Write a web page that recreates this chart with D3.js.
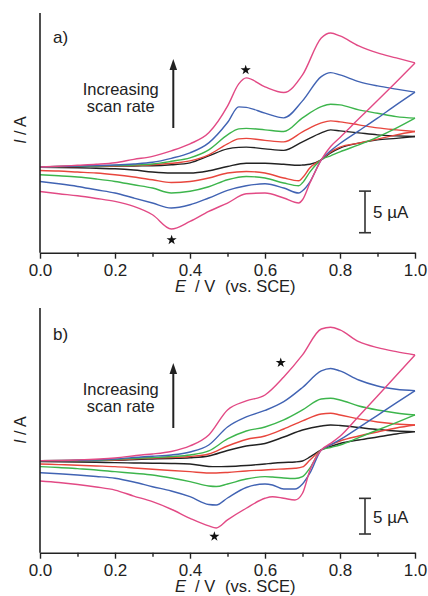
<!DOCTYPE html>
<html>
<head>
<meta charset="utf-8">
<script src="https://cdn.jsdelivr.net/npm/d3@7/dist/d3.min.js"></script>
<style>
  body { margin: 0; background: #fff; }
  text { font-family: "Liberation Sans", Arial, Helvetica, sans-serif; fill: #222; }
</style>
</head>
<body>
<svg id="chart" width="428" height="596"></svg>
<script>
// Cyclic voltammograms at five scan rates (slowest -> fastest), current in µA.
const seriesNames = ["black", "red", "green", "blue", "magenta"];
const seriesColors = ["#222222", "#e8463d", "#3db54c", "#4163b3", "#e24a85"];

// ---- Panel a) ----
const potA_fwd = [0, 0.05, 0.1, 0.15, 0.2, 0.25, 0.3, 0.35, 0.4, 0.45, 0.5, 0.53, 0.55, 0.6, 0.65, 0.7, 0.75, 0.775, 0.8, 0.85, 0.9, 0.95, 1.0];
const potA_rev = [1.0, 0.95, 0.9, 0.85, 0.8, 0.775, 0.75, 0.72, 0.7, 0.69, 0.65, 0.6, 0.55, 0.5, 0.45, 0.4, 0.35, 0.3, 0.25, 0.2, 0.15, 0.1, 0.05, 0];

const a_black_fwd   = [0, 0.02, 0.05, 0.06, 0.08, 0.12, 0.14, 0.26, 0.50, 1.34, 2.18, 2.36, 2.39, 2.18, 2.00, 3.02, 4.10, 4.46, 4.34, 4.10, 3.86, 3.74, 3.66];
const a_red_fwd     = [0, 0.04, 0.06, 0.08, 0.11, 0.17, 0.26, 0.44, 0.74, 1.46, 2.78, 3.38, 3.44, 3.20, 3.02, 4.22, 5.30, 5.54, 5.42, 5.06, 4.70, 4.46, 4.26];
const a_green_fwd   = [0, 0.05, 0.08, 0.12, 0.17, 0.23, 0.35, 0.68, 1.10, 2.06, 3.86, 4.58, 4.64, 4.46, 4.26, 5.90, 7.25, 7.54, 7.46, 6.86, 6.46, 6.05, 5.87];
const a_blue_fwd    = [0, 0.06, 0.11, 0.17, 0.24, 0.36, 0.56, 1.04, 1.70, 2.90, 5.34, 7.22, 7.16, 6.47, 5.90, 7.94, 10.86, 11.34, 11.06, 10.26, 9.74, 9.35, 8.99];
const a_magenta_fwd = [0, 0.08, 0.20, 0.32, 0.50, 0.92, 1.28, 1.94, 2.78, 4.10, 7.30, 9.98, 10.70, 9.62, 8.94, 11.06, 15.50, 16.10, 15.74, 14.54, 13.70, 13.10, 12.50];

const a_black_rev   = [3.66, 3.44, 3.26, 2.87, 2.27, 1.70, 0.86, 0.32, 0.23, 0.20, 0.32, 0.44, 0.44, 0.06, -0.46, -0.73, -0.73, -0.61, -0.37, -0.22, -0.16, -0.10, -0.06, -0.04];
const a_red_rev     = [4.26, 3.86, 3.35, 2.87, 2.39, 1.82, 0.86, -0.10, -1.30, -1.66, -1.33, -0.73, -0.54, -0.73, -1.33, -1.74, -1.86, -1.54, -1.21, -0.94, -0.73, -0.61, -0.49, -0.42];
const a_green_rev   = [5.87, 4.67, 3.59, 2.66, 1.82, 1.34, 0.86, -0.58, -1.90, -2.26, -1.93, -1.33, -1.14, -1.54, -2.38, -2.92, -3.13, -2.53, -2.14, -1.74, -1.45, -1.21, -1.06, -0.94];
const a_blue_rev    = [8.99, 7.46, 5.87, 4.34, 2.82, 1.94, 0.86, -1.78, -2.86, -3.13, -2.53, -2.02, -2.26, -2.82, -3.73, -4.54, -4.93, -4.33, -3.73, -3.13, -2.74, -2.34, -2.02, -1.74];
const a_magenta_rev = [12.50, 10.22, 7.98, 5.78, 3.54, 2.46, 0.86, -1.90, -3.94, -4.33, -3.73, -3.13, -3.22, -4.33, -5.34, -6.54, -7.45, -5.74, -4.74, -4.14, -3.78, -3.46, -3.22, -2.94];

// ---- Panel b) ----
const potB_fwd = [0, 0.1, 0.2, 0.27, 0.3, 0.35, 0.4, 0.45, 0.5, 0.55, 0.6, 0.65, 0.7, 0.75, 0.775, 0.8, 0.85, 0.9, 0.95, 1.0];
const potB_rev = [1.0, 0.95, 0.9, 0.85, 0.8, 0.775, 0.75, 0.72, 0.7, 0.68, 0.65, 0.62, 0.6, 0.55, 0.5, 0.47, 0.45, 0.4, 0.35, 0.3, 0.25, 0.2, 0.15, 0.1, 0.05, 0];

const b_black_fwd   = [0, 0.01, 0.06, 0.20, 0.24, 0.31, 0.41, 0.66, 1.43, 2.06, 2.41, 3.32, 4.30, 4.86, 5.00, 4.93, 4.65, 4.37, 4.16, 4.07];
const b_red_fwd     = [0, 0.03, 0.10, 0.31, 0.35, 0.45, 0.59, 0.94, 2.06, 2.97, 3.46, 4.44, 5.57, 6.55, 6.65, 6.41, 5.85, 5.43, 5.15, 5.00];
const b_green_fwd   = [0, 0.03, 0.17, 0.38, 0.45, 0.59, 0.80, 1.36, 3.04, 4.16, 4.72, 5.71, 7.11, 8.65, 8.75, 8.51, 7.67, 7.11, 6.69, 6.41];
const b_blue_fwd    = [0, 0.06, 0.24, 0.52, 0.62, 0.80, 1.22, 2.20, 4.72, 6.13, 7.04, 8.27, 10.26, 12.58, 12.93, 12.58, 11.31, 10.47, 10.01, 9.81];
const b_magenta_fwd = [0, 0.10, 0.38, 0.80, 0.94, 1.29, 2.06, 3.60, 7.11, 8.37, 9.21, 11.73, 14.82, 18.46, 18.70, 18.32, 16.68, 15.84, 15.28, 14.82];

const b_black_rev   = [4.07, 3.74, 3.32, 2.90, 2.41, 1.99, 1.50, 0.52, -0.04, -0.18, -0.25, -0.36, -0.46, -0.67, -0.81, -0.84, -0.81, -0.46, -0.39, -0.36, -0.32, -0.28, -0.22, -0.18, -0.15, -0.14];
const b_red_rev     = [5.00, 4.58, 4.02, 3.46, 2.76, 2.20, 1.50, 0.10, -0.88, -1.07, -1.16, -1.23, -1.30, -1.44, -1.65, -1.72, -1.72, -1.54, -1.37, -1.21, -1.02, -0.84, -0.74, -0.64, -0.55, -0.46];
const b_green_rev   = [6.41, 5.34, 4.30, 3.24, 2.20, 1.85, 1.50, -1.02, -2.24, -2.50, -2.43, -2.29, -2.24, -2.57, -3.27, -3.62, -3.55, -2.94, -2.43, -2.01, -1.77, -1.54, -1.30, -1.12, -0.95, -0.84];
const b_blue_rev    = [9.81, 8.09, 6.36, 4.63, 2.94, 2.20, 1.50, -1.72, -3.27, -3.97, -3.97, -3.41, -3.27, -3.76, -5.23, -6.21, -6.14, -5.05, -4.25, -3.65, -2.99, -2.47, -2.22, -2.01, -1.84, -1.68];
const b_magenta_rev = [14.82, 11.95, 9.07, 6.23, 3.42, 2.42, 1.50, -1.30, -4.57, -5.51, -5.27, -5.05, -5.27, -6.67, -8.31, -9.43, -9.15, -8.08, -6.81, -5.75, -4.96, -4.12, -3.69, -3.34, -3.06, -2.85];

// Peak markers (potential in V, current in µA)
const a_starE = [0.5485, 0.351];
const a_starI = [11.65, -8.77];
const b_starE = [0.642, 0.465];
const b_starI = [13.73, -10.63];

const xTicks = [0, 0.2, 0.4, 0.6, 0.8, 1.0];
const xMinorTicks = [0.1, 0.3, 0.5, 0.7, 0.9];
const scaleBarValue = 5; // µA

const panels = [
  {
    tag: "a)", top: 13, bottom: 252.7, yDomain: [-10.3, 18.5],
    potFwd: potA_fwd, potRev: potA_rev,
    fwd: [a_black_fwd, a_red_fwd, a_green_fwd, a_blue_fwd, a_magenta_fwd],
    rev: [a_black_rev, a_red_rev, a_green_rev, a_blue_rev, a_magenta_rev],
    starE: a_starE, starI: a_starI, barBase: -7.9, dy: 0
  },
  {
    tag: "b)", top: 308, bottom: 552.7, yDomain: [-12.9, 21.4],
    potFwd: potB_fwd, potRev: potB_rev,
    fwd: [b_black_fwd, b_red_fwd, b_green_fwd, b_blue_fwd, b_magenta_fwd],
    rev: [b_black_rev, b_red_rev, b_green_rev, b_blue_rev, b_magenta_rev],
    starE: b_starE, starI: b_starI, barBase: -10.28, dy: 300
  }
];

const svg = d3.select("#chart");
const x = d3.scaleLinear().domain([0, 1]).range([40, 415]);

panels.forEach(p => {
  const y = d3.scaleLinear().domain(p.yDomain).range([p.bottom, p.top]);
  const g = svg.append("g");

  const line = d3.line()
    .x(d => x(d[0]))
    .y(d => y(d[1]))
    .curve(d3.curveMonotoneX);

  // Curves: forward and reverse sweeps for each scan rate
  seriesNames.forEach((name, i) => {
    const fwdPts = p.potFwd.map((e, k) => [e, p.fwd[i][k]]);
    const revPts = p.potRev.map((e, k) => [e, p.rev[i][k]]).reverse();
    [fwdPts, revPts].forEach(pts => {
      g.append("path")
        .attr("d", line(pts))
        .attr("fill", "none")
        .attr("stroke", seriesColors[i])
        .attr("stroke-width", 1.4)
        .attr("stroke-linejoin", "round");
    });
  });

  // y axis line (no tick labels)
  g.append("line")
    .attr("x1", x(0)).attr("x2", x(0))
    .attr("y1", p.top).attr("y2", p.bottom)
    .attr("stroke", "#222").attr("stroke-width", 1.6);

  // x axis with major and minor ticks
  const axisMajor = d3.axisBottom(x).tickValues(xTicks)
    .tickFormat(d3.format(".1f")).tickSizeInner(6).tickSizeOuter(0).tickPadding(5);
  const ax = g.append("g").attr("transform", `translate(0,${p.bottom})`).call(axisMajor);
  ax.select(".domain").attr("stroke", "#222").attr("stroke-width", 1.6);
  ax.selectAll(".tick line").attr("stroke", "#222").attr("stroke-width", 1.4);
  ax.selectAll(".tick text").attr("font-size", 17).attr("fill", "#333")
    .attr("font-family", "Liberation Sans, Arial, sans-serif");

  const axisMinor = d3.axisBottom(x).tickValues(xMinorTicks).tickFormat("").tickSizeInner(4).tickSizeOuter(0);
  const axm = g.append("g").attr("transform", `translate(0,${p.bottom})`).call(axisMinor);
  axm.select(".domain").remove();
  axm.selectAll(".tick line").attr("stroke", "#222").attr("stroke-width", 1.4);

  // x axis title
  const xt = g.append("text").attr("y", p.bottom + 39.5).attr("font-size", 16.5).attr("fill", "#333");
  xt.append("tspan").attr("x", 175).attr("font-style", "italic").text("E");
  xt.append("tspan").attr("x", 195).text("/ V");
  xt.append("tspan").attr("x", 225).text("(vs. SCE)");

  // y axis title
  g.append("text")
    .attr("transform", `translate(26,${130 + p.dy}) rotate(-90)`)
    .attr("text-anchor", "middle").attr("font-size", 16).attr("fill", "#333")
    .html('<tspan font-style="italic">I</tspan> / A');

  // panel tag
  g.append("text").attr("x", 53).attr("y", 43 + p.dy + (p.dy ? -3.5 : 0))
    .attr("font-size", 17).attr("fill", "#333").text(p.tag);

  // scan-rate note and arrow
  g.append("text").attr("x", 120.7).attr("y", 95 + p.dy).attr("text-anchor", "middle")
    .attr("font-size", 16.5).attr("fill", "#333").text("Increasing");
  g.append("text").attr("x", 120.7).attr("y", 111.7 + p.dy).attr("text-anchor", "middle")
    .attr("font-size", 16.5).attr("fill", "#333").text("scan rate");
  const ax0 = 173.3, tipY = 59 + p.dy + (p.dy ? 4 : 0), baseY = 128 + p.dy;
  g.append("line").attr("x1", ax0).attr("x2", ax0).attr("y1", baseY).attr("y2", tipY + 8)
    .attr("stroke", "#222").attr("stroke-width", 2);
  g.append("path")
    .attr("d", `M${ax0},${tipY} L${ax0 - 3.8},${tipY + 11} L${ax0 + 3.8},${tipY + 11} Z`)
    .attr("fill", "#222");

  // peak markers
  p.starE.forEach((e, k) => {
    g.append("path")
      .attr("d", d3.symbol(d3.symbolStar, 32)())
      .attr("transform", `translate(${x(e)},${y(p.starI[k])})`)
      .attr("fill", "#111");
  });

  // 5 µA scale bar
  const bx = 365, y0 = y(p.barBase), y1 = y(p.barBase + scaleBarValue);
  const sb = g.append("g").attr("stroke", "#333").attr("stroke-width", 1.6);
  sb.append("line").attr("x1", bx).attr("x2", bx).attr("y1", y0).attr("y2", y1);
  sb.append("line").attr("x1", bx - 6).attr("x2", bx + 6).attr("y1", y0).attr("y2", y0);
  sb.append("line").attr("x1", bx - 6).attr("x2", bx + 6).attr("y1", y1).attr("y2", y1);
  g.append("text").attr("x", 373).attr("y", (y0 + y1) / 2 + 6.5)
    .attr("font-size", 17).attr("fill", "#333").text("5 µA");
});
</script>
</body>
</html>
